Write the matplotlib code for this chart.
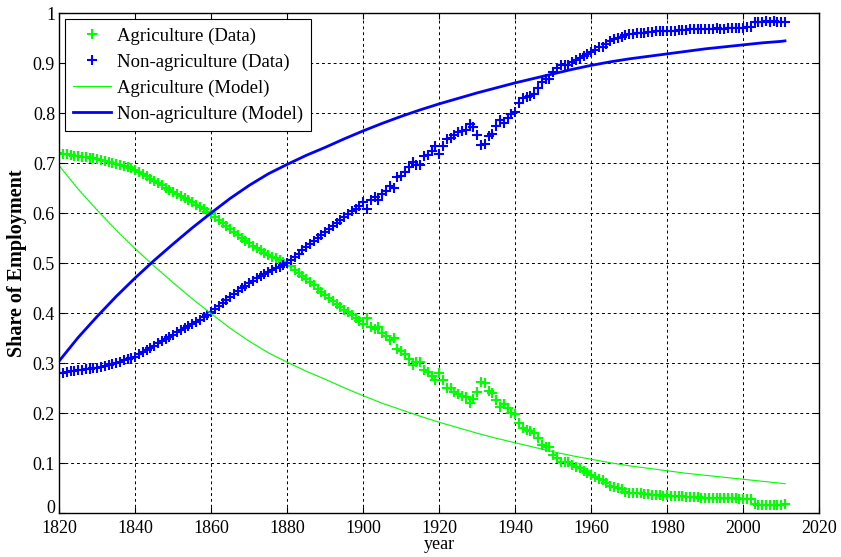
import matplotlib
matplotlib.use("Agg")
import matplotlib.pyplot as plt
import numpy as np

plt.rcParams['font.family'] = ['Liberation Serif', 'DejaVu Serif']

# annual data, 1820-2011
years = list(range(1820, 2012))
agri_data = [
    0.720, 0.719, 0.718, 0.716, 0.715, 0.714, 0.713, 0.712, 0.711, 0.710,  # 1820s
    0.709, 0.707, 0.705, 0.703, 0.701, 0.699, 0.697, 0.694, 0.692, 0.690,  # 1830s
    0.687, 0.682, 0.678, 0.674, 0.669, 0.665, 0.660, 0.656, 0.651, 0.647,  # 1840s
    0.643, 0.638, 0.634, 0.630, 0.626, 0.622, 0.617, 0.613, 0.608, 0.603,  # 1850s
    0.598, 0.592, 0.586, 0.580, 0.574, 0.568, 0.562, 0.556, 0.550, 0.545,  # 1860s
    0.540, 0.535, 0.530, 0.526, 0.521, 0.517, 0.513, 0.510, 0.507, 0.503,  # 1870s
    0.500, 0.494, 0.487, 0.481, 0.474, 0.468, 0.462, 0.456, 0.449, 0.443,  # 1880s
    0.437, 0.431, 0.425, 0.419, 0.413, 0.407, 0.402, 0.396, 0.391, 0.385,  # 1890s
    0.378, 0.391, 0.373, 0.368, 0.373, 0.361, 0.355, 0.346, 0.350, 0.328,  # 1900s
    0.325, 0.318, 0.308, 0.297, 0.303, 0.303, 0.286, 0.283, 0.275, 0.266,  # 1910s
    0.281, 0.266, 0.251, 0.250, 0.243, 0.238, 0.235, 0.233, 0.221, 0.228,  # 1920s
    0.243, 0.263, 0.261, 0.245, 0.241, 0.226, 0.213, 0.219, 0.210, 0.201,  # 1930s
    0.198, 0.180, 0.170, 0.167, 0.165, 0.161, 0.150, 0.137, 0.132, 0.132,  # 1940s
    0.117, 0.110, 0.103, 0.103, 0.103, 0.097, 0.093, 0.090, 0.085, 0.081,  # 1950s
    0.077, 0.073, 0.068, 0.067, 0.061, 0.055, 0.052, 0.050, 0.048, 0.043,  # 1960s
    0.041, 0.041, 0.040, 0.040, 0.039, 0.038, 0.037, 0.036, 0.036, 0.035,  # 1970s
    0.036, 0.035, 0.035, 0.034, 0.034, 0.033, 0.032, 0.032, 0.032, 0.031,  # 1980s
    0.031, 0.031, 0.031, 0.030, 0.031, 0.031, 0.030, 0.030, 0.030, 0.029,  # 1990s
    0.029, 0.028, 0.028, 0.018, 0.017, 0.017, 0.016, 0.017, 0.016, 0.017,  # 2000s
    0.017, 0.018,
]
# shares of the two sectors add up to one
nonagri_data = [round(1 - v, 3) for v in agri_data]

# model curves (read every 5 years)
model_years = [1820, 1825, 1830, 1835, 1840, 1845, 1850, 1855, 1860, 1865,
               1870, 1875, 1880, 1885, 1890, 1895, 1900, 1905, 1910, 1915,
               1920, 1925, 1930, 1935, 1940, 1945, 1950, 1955, 1960, 1965,
               1970, 1975, 1980, 1985, 1990, 1995, 2000, 2005, 2010, 2011]
agri_model = [0.695, 0.648, 0.606, 0.566, 0.529, 0.494, 0.461, 0.429, 0.399, 0.370,
              0.344, 0.321, 0.302, 0.284, 0.268, 0.251, 0.235, 0.220, 0.207, 0.194,
              0.182, 0.171, 0.160, 0.150, 0.141, 0.132, 0.123, 0.115, 0.108, 0.101,
              0.095, 0.090, 0.085, 0.080, 0.076, 0.072, 0.068, 0.064, 0.060, 0.059]
nonagri_model = [0.305, 0.352, 0.394, 0.434, 0.471, 0.506, 0.539, 0.571, 0.601, 0.630,
                 0.656, 0.679, 0.698, 0.716, 0.732, 0.749, 0.765, 0.780, 0.794, 0.807,
                 0.819, 0.830, 0.841, 0.851, 0.861, 0.870, 0.879, 0.888, 0.896, 0.903,
                 0.909, 0.914, 0.919, 0.924, 0.929, 0.933, 0.937, 0.941, 0.944, 0.945]

fig = plt.figure(figsize=(8.41, 5.57), dpi=100)
ax = fig.add_axes([0.0705, 0.0785, 0.9035, 0.8975])

green = (0, 1, 0)
blue = (0, 0, 1)
ax.plot(years, agri_data, '+', color=green, ms=7, mew=1.5, label='Agriculture (Data)')
ax.plot(years, nonagri_data, '+', color=blue, ms=7, mew=1.5, label='Non-agriculture (Data)')
ax.plot(model_years, agri_model, '-', color=green, lw=0.8, label='Agriculture (Model)')
ax.plot(model_years, nonagri_model, '-', color=blue, lw=2.0, label='Non-agriculture (Model)')

ax.set_xlim(1820, 2020)
ax.set_ylim(0, 1)
ax.set_xticks(range(1820, 2021, 20))
ax.set_yticks(np.arange(0, 1.01, 0.1))
ax.set_yticklabels(['0', '0.1', '0.2', '0.3', '0.4', '0.5', '0.6', '0.7', '0.8', '0.9', '1'])
ax.tick_params(direction='in', top=True, right=True, labelsize=13, length=4, width=0.8)
ax.tick_params(axis='y', pad=3)
ax.tick_params(axis='x', pad=5)
# the "0" label sits above the corner, as in the original
ax.get_yticklabels()[0].set_verticalalignment('baseline')
ax.grid(True, color='black', linestyle=(0, (3, 3)), linewidth=0.7)
for s in ax.spines.values():
    s.set_linewidth(1.0)

ax.set_xlabel('year', fontsize=13, labelpad=-1)
ax.set_ylabel('Share of Employment', fontsize=14.5, fontweight='bold', labelpad=4)

leg = ax.legend(loc='upper left', bbox_to_anchor=(0.0075, 0.9886), borderaxespad=0,
                fontsize=13.5, numpoints=1, handlelength=2.0, handletextpad=0.32,
                labelspacing=0.46, borderpad=0.45, fancybox=False, framealpha=1)
leg.get_frame().set_edgecolor('black')
leg.get_frame().set_linewidth(0.8)

fig.savefig('out.png', dpi=100)
